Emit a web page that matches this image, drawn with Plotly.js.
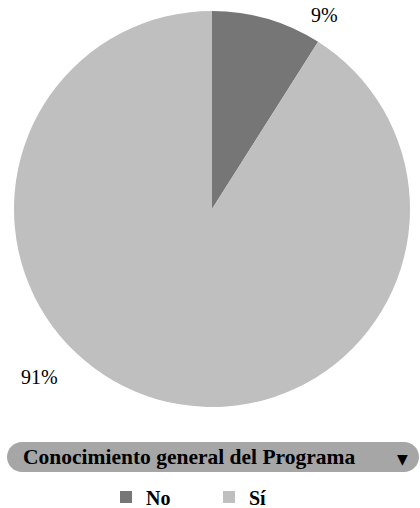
<!DOCTYPE html>
<html>
<head>
<meta charset="utf-8">
<script src="https://cdn.plot.ly/plotly-3.0.1.min.js"></script>
<style>html,body{margin:0;padding:0;background:#fff;}#chart{width:420px;height:508px;}</style>
</head>
<body>
<div id="chart"></div>
<script>
const labels = ['No', 'Sí'];
const values = [9, 91];
const colors = ['#767676', '#bfbfbf'];
const fieldTitle = 'Conocimiento general del Programa';

const W = 420, H = 508;
const px = x => x / W;
const py = y => 1 - y / H;

const total = values.reduce((a, b) => a + b, 0);
const pct = values.map(v => Math.round(v / total * 100) + '%');

// pill-shaped field button
function pill(x0, y0, x1, y1) {
  const r = (y1 - y0) / 2, k = 0.5523 * r;
  const P = (x, y) => px(x).toFixed(5) + ',' + py(y).toFixed(5);
  return 'M' + P(x0 + r, y0) +
    ' L' + P(x1 - r, y0) +
    ' C' + P(x1 - r + k, y0) + ' ' + P(x1, y0 + r - k) + ' ' + P(x1, y0 + r) +
    ' C' + P(x1, y0 + r + k) + ' ' + P(x1 - r + k, y1) + ' ' + P(x1 - r, y1) +
    ' L' + P(x0 + r, y1) +
    ' C' + P(x0 + r - k, y1) + ' ' + P(x0, y0 + r + k) + ' ' + P(x0, y0 + r) +
    ' C' + P(x0, y0 + r - k) + ' ' + P(x0 + r - k, y0) + ' ' + P(x0 + r, y0) + ' Z';
}

const data = [{
  type: 'pie',
  labels: labels,
  values: values,
  sort: false,
  direction: 'clockwise',
  rotation: 0,
  marker: {colors: colors, line: {width: 0}},
  textinfo: 'none',
  hoverinfo: 'label+percent',
  domain: {x: [px(14), px(410)], y: [py(407), py(11)]}
}];

const layout = {
  width: W, height: H,
  margin: {l: 0, r: 0, t: 0, b: 0, autoexpand: false},
  paper_bgcolor: '#ffffff',
  showlegend: true,
  legend: {
    orientation: 'h',
    x: px(106), xanchor: 'left',
    y: py(497), yanchor: 'middle',
    font: {family: 'Liberation Serif, serif', size: 20, color: '#000', weight: 'bold'},
    entrywidth: 58,
    bgcolor: 'rgba(0,0,0,0)'
  },
  shapes: [{
    type: 'path', xref: 'paper', yref: 'paper',
    path: pill(7, 442, 419, 472),
    fillcolor: '#a6a6a6', line: {width: 0}, layer: 'below'
  }],
  annotations: [
    {xref: 'paper', yref: 'paper', x: px(324), y: py(15), text: pct[0], showarrow: false,
     xanchor: 'center', yanchor: 'middle', font: {family: 'Liberation Serif, serif', size: 20, color: '#000'}},
    {xref: 'paper', yref: 'paper', x: px(39), y: py(377), text: pct[1], showarrow: false,
     xanchor: 'center', yanchor: 'middle', font: {family: 'Liberation Serif, serif', size: 20, color: '#000'}},
    {xref: 'paper', yref: 'paper', x: px(21), y: py(457), text: fieldTitle, showarrow: false,
     xanchor: 'left', yanchor: 'middle', font: {family: 'Liberation Serif, serif', size: 21.5, color: '#000', weight: 'bold'}},
    {xref: 'paper', yref: 'paper', x: px(402), y: py(459), text: '▼', showarrow: false,
     xanchor: 'center', yanchor: 'middle', font: {family: 'DejaVu Sans, sans-serif', size: 14, color: '#000'}}
  ]
};

Plotly.newPlot('chart', data, layout, {displayModeBar: false, staticPlot: true});
</script>
</body>
</html>
